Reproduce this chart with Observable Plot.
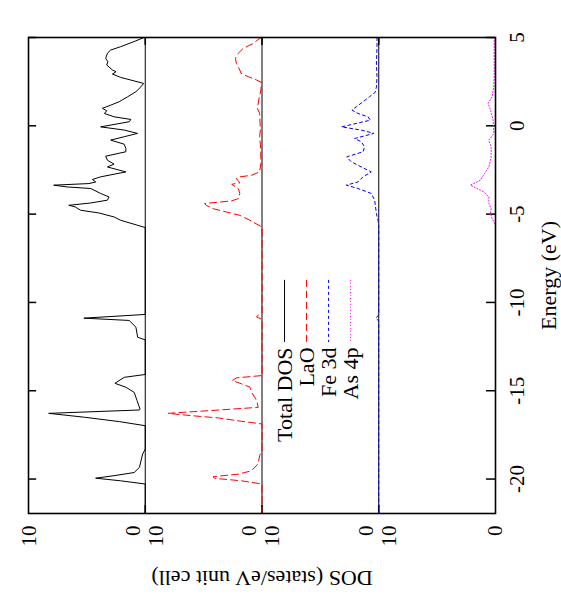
<!DOCTYPE html>
<html>
<head>
<meta charset="utf-8">
<script src="https://cdn.jsdelivr.net/npm/d3@7"></script>
<script src="https://cdn.jsdelivr.net/npm/@observablehq/plot@0.6"></script>
<style>
  html, body { margin: 0; padding: 0; background: #fff; overflow: hidden; }
  #chart { width: 561px; height: 600px; }
  #chart svg text { font-family: "Liberation Serif", "Times New Roman", serif; }
</style>
</head>
<body>
<div id="chart"></div>
<script>
// ---- Data ----
const seriesNames = ["Total DOS", "LaO", "Fe 3d", "As 4p"];

const totalE = [5.0, 4.77, 4.48, 4.29, 4.11, 3.82, 3.63, 3.44, 3.16, 3.06, 2.93, 2.74, 2.59, 2.4, 2.21, 1.93, 1.64, 1.36, 1.17, 0.99, 0.85, 0.7, 0.51, 0.36, 0.23, -0.06, -0.24, -0.43, -0.62, -0.81, -1.04, -1.28, -1.47, -1.72, -1.95, -2.17, -2.33, -2.61, -2.74, -2.89, -3.04, -3.18, -3.27, -3.36, -3.46, -3.55, -3.83, -4.03, -4.21, -4.37, -4.5, -4.59, -4.78, -4.93, -5.16, -5.35, -5.63, -5.76, -10.68, -10.89, -11.02, -11.4, -11.97, -12.12, -14.08, -14.24, -14.58, -14.8, -15.09, -15.56, -16.03, -16.09, -16.28, -16.5, -16.75, -16.98, -18.3, -18.58, -19.34, -19.63, -19.81, -19.95, -20.1, -20.28, -21.95];
const totalDOS = [0.1, 0.95, 2.1, 2.96, 3.24, 3.39, 3.2, 3.3, 2.81, 2.5, 2.81, 2.1, 1.23, 0.14, 0.37, 0.8, 1.52, 2.24, 2.96, 3.67, 3.3, 3.5, 2.67, 1.23, 1.37, 3.82, 1.81, 0.66, 1.81, 2.96, 1.81, 1.66, 1.66, 3.39, 3.24, 2.67, 3.24, 1.66, 2.67, 3.82, 4.53, 4.24, 4.82, 7.84, 6.7, 4.67, 3.82, 3.1, 3.24, 4.67, 6.55, 6.0, 5.54, 4.0, 2.67, 2.1, 0.66, 0, 0, 5.26, 1.38, 0.8, 0.65, 0, 0, 1.8, 2.6, 1.66, 0.95, 0.7, 0.45, 0.5, 8.27, 5.2, 2.2, 0, 0, 0.22, 0.5, 0.95, 2.67, 4.25, 2.1, 0, 0];

const laoE = [5.0, 4.96, 4.67, 4.39, 4.11, 3.82, 3.54, 3.16, 2.97, 2.78, 2.59, 2.46, 2.03, 1.64, 0.99, 0.7, -0.24, -0.62, -1.38, -2.13, -2.61, -2.8, -2.89, -2.98, -3.23, -3.31, -3.55, -3.83, -4.12, -4.25, -4.4, -4.5, -4.69, -4.88, -5.07, -5.35, -5.54, -5.73, -10.6, -10.75, -10.83, -10.95, -14.14, -14.27, -14.42, -14.61, -14.8, -15.09, -15.56, -15.94, -16.13, -16.28, -16.41, -16.54, -16.73, -16.88, -18.39, -18.67, -19.15, -19.53, -19.72, -19.87, -19.96, -20.1, -20.28, -21.95];
const laoDOS = [0.05, 0.17, 0.74, 1.6, 2.03, 2.27, 2.2, 1.9, 1.8, 1.17, 0.46, 0.06, 0.09, 0.23, 0.4, 0.2, 0.14, 0.2, 0.1, 0.1, 0.2, 0.89, 1.9, 2.2, 1.9, 2.6, 2.03, 1.9, 2.03, 2.6, 4.92, 4.78, 4.2, 3.05, 1.9, 1.03, 0.52, 0, 0, 0.4, 0.46, 0, 0, 2.18, 2.55, 1.75, 1.03, 0.89, 0.46, 0.32, 4.6, 8.05, 6.05, 3.74, 1.75, 0, 0, 0.2, 0.35, 0.9, 2.0, 4.2, 4.05, 1.75, 0, 0];

const feE = [5.0, 4.5, 3.5, 2.8, 2.2, 1.9, 1.65, 1.36, 1.08, 0.89, 0.7, 0.51, 0.32, -0.06, -0.24, -0.43, -0.72, -0.9, -1.19, -1.47, -1.76, -2.04, -2.33, -2.61, -2.89, -3.18, -3.36, -3.55, -3.83, -4.21, -4.97, -5.35, -5.7, -10.7, -10.9, -11.05, -21.95];
const feDOS = [0.15, 0.15, 0.2, 0.15, 0.2, 0.3, 0.78, 1.35, 1.92, 2.3, 1.78, 0.92, 0.72, 3.2, 1.5, 0.41, 2.07, 1.5, 1.21, 1.35, 2.75, 2.35, 1.5, 0.64, 1.35, 1.78, 2.78, 1.78, 0.64, 0.35, 0.2, 0.06, 0, 0, 0.25, 0, 0];

const asE = [5.0, 4.0, 3.0, 2.2, 1.65, 1.27, 0.89, 0.32, -0.43, -0.81, -1.19, -1.76, -2.33, -2.7, -3.08, -3.36, -3.55, -3.74, -4.03, -4.4, -4.69, -4.97, -5.26, -5.6, -21.95];
const asDOS = [0.1, 0.12, 0.1, 0.15, 0.29, 0.63, 0.43, 0.2, 0.14, 0.57, 0.37, 0.37, 0.57, 0.95, 1.29, 2.15, 1.58, 1.0, 0.57, 0.57, 0.37, 0.43, 0.29, 0, 0];

const energyTicks = [5, 0, -5, -10, -15, -20];
const energyTickLabels = ["5", "0", "-5", "-10", "-15", "-20"];
const dosTickValues = [10, 0];
const dosTickLabels = ["10", "0"];
const energyDomain = [-21.95, 5];
const dosMax = 10;

const seriesColors = ["black", "#ff0000", "#0000ff", "#ff00ff"];
const seriesDash = [null, "7,4", "3,3", "1,2"];

// ---- Build tables ----
const FONT = "Liberation Serif";
const nPanels = seriesNames.length;
// horizontal position: panel p occupies [p*10, p*10+10], DOS increases leftward
const toU = (p, dos) => p * dosMax + (dosMax - dos);

const seriesData = [
  [totalE, totalDOS],
  [laoE, laoDOS],
  [feE, feDOS],
  [asE, asDOS]
].map(([es, ds], p) => es.map((e, i) => ({panel: p, e, dos: ds[i]})));

const boundaries = d3.range(1, nPanels); // separators between panels

// bottom DOS tick labels: "10" at left of each panel, "0" at right
const dosLabelRows = [];
for (let p = 0; p < nPanels; p++) {
  dosTickValues.forEach((v, k) => {
    let off = 0;
    if (v === dosMax) off = p > 0 ? 0.92 : 0.08;
    else off = p < nPanels - 1 ? -1.05 : 0;
    dosLabelRows.push({u: toU(p, v) + off, label: dosTickLabels[k]});
  });
}

// legend placement (data units)
const legendU = seriesNames.map((_, i) => 21.93 + i * 1.885);
const legendLineTop = -8.75, legendLineBottom = -12.27, legendTextEnd = -12.55;
const legendRows = seriesNames.map((name, i) => ({name, i, u: legendU[i]}));

const marks = [];

// panel separators
marks.push(Plot.ruleX(boundaries.map(b => b * dosMax), {stroke: "black", strokeWidth: 1}));
// small ticks on separators (top & bottom)
boundaries.forEach(b => {
  marks.push(Plot.ruleX([b * dosMax], {y1: energyDomain[0], y2: energyDomain[0] + 0.45, stroke: "black", strokeWidth: 1.6}));
  marks.push(Plot.ruleX([b * dosMax], {y1: energyDomain[1], y2: energyDomain[1] - 0.45, stroke: "black", strokeWidth: 1.6}));
});

// energy ticks on left and right edges (inward)
marks.push(Plot.ruleY(energyTicks, {x1: 0, x2: 0.7, stroke: "black", strokeWidth: 1.5}));
marks.push(Plot.ruleY(energyTicks, {x1: 40 - 0.77, x2: 40, stroke: "black", strokeWidth: 1.5}));

// DOS curves
seriesData.forEach((rows, p) => {
  marks.push(Plot.line(rows, {
    x: d => toU(d.panel, d.dos),
    y: "e",
    stroke: seriesColors[p],
    strokeWidth: 1,
    strokeDasharray: seriesDash[p] || undefined,
    curve: "linear"
  }));
});

// frame
marks.push(Plot.frame({stroke: "black", strokeWidth: 1.6}));

// energy tick labels on the right
marks.push(Plot.text(energyTicks, {
  x: 40, y: d => d, dx: 22,
  text: (d, i) => energyTickLabels[i],
  rotate: -90, textAnchor: "middle", lineAnchor: "middle",
  fontSize: 21, fontFamily: FONT, fill: "black"
}));

// DOS tick labels at the bottom
marks.push(Plot.text(dosLabelRows, {
  x: "u", frameAnchor: "bottom", dy: 12,
  text: "label", rotate: -90, textAnchor: "end", lineAnchor: "middle",
  fontSize: 21, fontFamily: FONT, fill: "black"
}));

// axis titles
marks.push(Plot.text(["Energy (eV)"], {
  frameAnchor: "right", dx: 53, rotate: -90,
  textAnchor: "middle", lineAnchor: "middle", fontSize: 22, fontFamily: FONT, fill: "black"
}));
marks.push(Plot.text(["DOS (states/eV unit cell)"], {
  frameAnchor: "bottom", dy: 65, rotate: 180,
  textAnchor: "middle", lineAnchor: "middle", fontSize: 22, fontFamily: FONT, fill: "black"
}));

// legend
legendRows.forEach(r => {
  marks.push(Plot.ruleX([r.u], {
    y1: legendLineTop, y2: legendLineBottom,
    stroke: seriesColors[r.i], strokeWidth: 1,
    strokeDasharray: seriesDash[r.i] || undefined
  }));
});
marks.push(Plot.text(legendRows, {
  x: "u", y: () => legendTextEnd, text: "name",
  rotate: -90, textAnchor: "end", lineAnchor: "middle",
  fontSize: 22, fontFamily: FONT, fill: "black"
}));

const chart = Plot.plot({
  width: 561,
  height: 600,
  marginLeft: 28,
  marginRight: 66,
  marginTop: 37,
  marginBottom: 87,
  x: {domain: [0, nPanels * dosMax], axis: null},
  y: {domain: energyDomain, axis: null},
  style: "background: white; color: black; font-family: 'Liberation Serif', serif;",
  marks
});

document.getElementById("chart").appendChild(chart);
</script>
</body>
</html>
